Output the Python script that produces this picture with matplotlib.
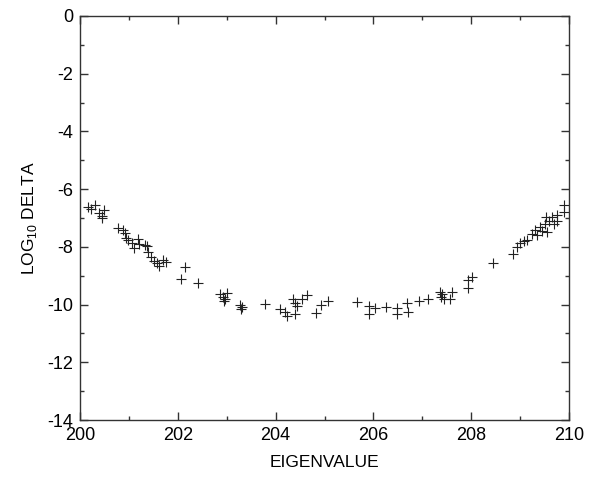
import matplotlib
matplotlib.use('Agg')
import matplotlib.pyplot as plt
from matplotlib.ticker import MultipleLocator

plt.rcParams['font.family'] = ['Liberation Sans', 'DejaVu Sans']
plt.rcParams['axes.unicode_minus'] = False

# eigenvalue / log10 delta pairs
eigenvalue = [
    200.16, 200.22, 200.31, 200.38, 200.44, 200.45, 200.49, 200.78, 200.88, 200.91,
    200.95, 200.98, 201.06, 201.10, 201.19, 201.20, 201.32, 201.38, 201.39, 201.45,
    201.51, 201.58, 201.62, 201.70, 201.76, 202.06, 202.15, 202.42, 202.86, 202.92,
    202.97, 203.01, 202.94, 203.27, 203.31, 203.29, 203.78, 204.09, 204.19, 204.24,
    204.36, 204.40, 204.43, 204.40, 204.54, 204.65, 204.82, 204.92, 205.08, 205.67,
    205.90, 205.90, 206.03, 206.26, 206.49, 206.49, 206.69, 206.71, 206.93, 207.12,
    207.36, 207.40, 207.39, 207.45, 207.57, 207.60, 207.94, 207.94, 208.01, 208.44,
    208.86, 208.93, 209.00, 209.07, 209.15, 209.25, 209.30, 209.35, 209.40, 209.45,
    209.50, 209.52, 209.55, 209.60, 209.65, 209.70, 209.75, 209.76, 209.90, 209.90,
]
log_delta = [
    -6.61, -6.69, -6.55, -6.84, -6.92, -7.01, -6.72, -7.34, -7.42, -7.53,
    -7.68, -7.76, -7.88, -8.03, -7.73, -7.91, -7.94, -7.96, -8.17, -8.34,
    -8.49, -8.57, -8.67, -8.46, -8.54, -9.13, -8.69, -9.24, -9.64, -9.73,
    -9.82, -9.61, -9.87, -10.02, -10.08, -10.17, -9.97, -10.17, -10.25, -10.38,
    -9.82, -9.96, -10.06, -10.31, -9.82, -9.67, -10.28, -10.02, -9.87, -9.90,
    -10.05, -10.31, -10.13, -10.10, -10.13, -10.31, -9.96, -10.25, -9.87, -9.79,
    -9.56, -9.62, -9.73, -9.79, -9.79, -9.56, -9.44, -9.15, -9.04, -8.55,
    -8.25, -8.02, -7.88, -7.79, -7.75, -7.55, -7.40, -7.60, -7.30, -7.45,
    -7.20, -6.95, -7.50, -7.10, -6.95, -7.20, -6.90, -7.10, -6.55, -6.80,
]

fig = plt.figure(figsize=(5.94, 4.83), dpi=100)
ax = fig.add_axes([0.1347, 0.1304, 0.8233, 0.8366])

ax.plot(eigenvalue, log_delta, linestyle='none', marker='+', color='#222222',
        markersize=6.5, markeredgewidth=0.8)

ax.set_xlim(200, 210)
ax.set_ylim(-14, 0)
ax.xaxis.set_major_locator(MultipleLocator(2))
ax.xaxis.set_minor_locator(MultipleLocator(1))
ax.yaxis.set_major_locator(MultipleLocator(2))
ax.yaxis.set_minor_locator(MultipleLocator(1))
ax.tick_params(which='both', direction='in', top=True, right=True,
               labelsize=13, width=1, color='#333333')
ax.tick_params(which='major', length=6, pad=5)
ax.tick_params(which='minor', length=3)
for sp in ax.spines.values():
    sp.set_linewidth(1)
    sp.set_color('#333333')

ax.set_xlabel('EIGENVALUE', fontsize=12.5, labelpad=8)
ax.set_ylabel(r'LOG$_{\mathregular{10}}$ DELTA', fontsize=12.5, labelpad=6)

fig.savefig('out.png', dpi=100)
